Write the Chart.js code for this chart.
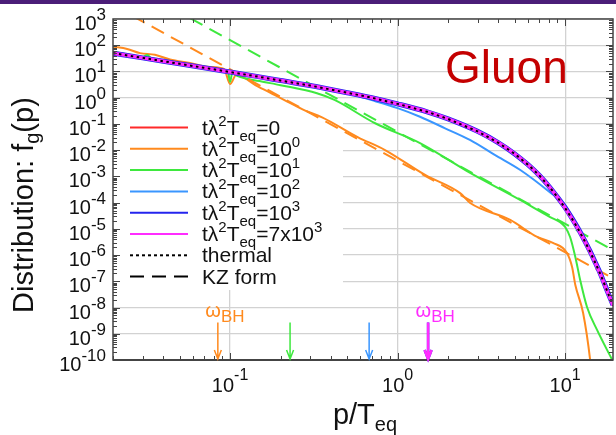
<!DOCTYPE html>
<html><head><meta charset="utf-8">
<script src="https://cdn.jsdelivr.net/npm/chart.js@4.4.1/dist/chart.umd.min.js"></script>
<style>html,body{margin:0;padding:0;background:#fff;}canvas{display:block;}</style>
</head><body>
<canvas id="c" width="616" height="435"></canvas>
<script>
const FONT = '"Liberation Sans", Arial, Helvetica, sans-serif';

// ---- categories / labels ----
const seriesTimes = ['0', '10^0', '10^1', '10^2', '10^3', '7x10^3'];
const seriesColors = ['#ff2a2a', '#ff8a1e', '#3ee83e', '#3a96ff', '#2424ee', '#ff2cff'];
const extraLegend = ['thermal', 'KZ form'];
const xTickExps = [-1, 0, 1];
const yTickExps = [3, 2, 1, 0, -1, -2, -3, -4, -5, -6, -7, -8, -9, -10];
const titleText = 'Gluon';

// ---- thermal (Bose-Einstein-like) ----
const pThermal = [0.02, 0.03, 0.05, 0.07, 0.1, 0.15, 0.2, 0.3, 0.5, 0.7, 1, 1.5, 2, 3, 4, 5, 6, 7, 8, 9, 10, 11, 12, 13, 14, 15, 16, 17, 18, 19.3];
const fThermal = [50, 33, 19.5, 13.8, 9.5, 6.2, 4.5, 2.9, 1.55, 1.0, 0.58, 0.29, 0.155, 0.052, 0.019, 0.0072, 0.0028, 1.1e-3, 4.2e-4, 1.6e-4, 6.2e-5, 2.4e-5, 9.5e-6, 3.7e-6, 1.45e-6, 5.7e-7, 2.3e-7, 9e-8, 3.6e-8, 1.2e-8];
// t=0, t=10^3, t=7x10^3 lie on the thermal curve
const fT0    = [50, 33, 19.5, 13.8, 9.5, 6.2, 4.5, 2.9, 1.55, 1.0, 0.58, 0.29, 0.155, 0.052, 0.019, 0.0072, 0.0028, 1.1e-3, 4.2e-4, 1.6e-4, 6.2e-5, 2.4e-5, 9.5e-6, 3.7e-6, 1.45e-6, 5.7e-7, 2.3e-7, 9e-8, 3.6e-8, 1.2e-8];
const fT1000 = [50, 33, 19.5, 13.8, 9.5, 6.2, 4.5, 2.9, 1.55, 1.0, 0.58, 0.29, 0.155, 0.052, 0.019, 0.0072, 0.0028, 1.1e-3, 4.2e-4, 1.6e-4, 6.4e-5, 2.5e-5, 9.8e-6, 3.8e-6, 1.5e-6, 5.9e-7, 2.4e-7, 9.3e-8, 3.7e-8, 1.25e-8];
const fT7000 = [50, 33, 19.5, 13.8, 9.5, 6.2, 4.5, 2.9, 1.55, 1.0, 0.58, 0.29, 0.155, 0.052, 0.019, 0.0072, 0.0028, 1.1e-3, 4.2e-4, 1.6e-4, 6.2e-5, 2.4e-5, 9.5e-6, 3.7e-6, 1.45e-6, 5.7e-7, 2.3e-7, 9e-8, 3.6e-8, 1.2e-8];

// ---- t = 10^0 (orange) ----
const pT1 = [0.02, 0.0243, 0.029, 0.0356, 0.0438, 0.0577, 0.076, 0.092, 0.1, 0.1086, 0.147, 0.207, 0.281, 0.354, 0.581, 0.841, 1.46, 2.36, 2.71, 4.7, 6.81, 8.45, 10.25, 11.0, 11.5, 12.8, 14.1, 14.6];
const fT1 = [88, 72, 50, 43, 28.6, 21, 14.8, 12.4, 3.3, 7.3, 2.62, 0.87, 0.32, 0.179, 0.031, 0.0101, 1.13e-3, 2.3e-4, 9.7e-5, 2.2e-5, 4.9e-6, 2.9e-6, 1.2e-6, 3.5e-7, 7.2e-8, 6.2e-9, 1e-10, 1e-11];

// ---- t = 10^1 (green) ----
const pT10 = [0.02, 0.025, 0.03, 0.032, 0.034, 0.05, 0.07, 0.097, 0.1, 0.103, 0.111, 0.15, 0.2, 0.33, 0.42, 0.734, 1.36, 2.71, 5.38, 8.13, 9.33, 10, 10.7, 11.5, 12.3, 13.5, 15.5, 19.1];
const fT10 = [56, 43, 35, 42, 31, 19.5, 13.5, 9.6, 4, 8.8, 6.6, 4.3, 3.0, 1.47, 0.82, 0.106, 0.0187, 1.35e-3, 1.26e-4, 2.8e-5, 1.8e-5, 1.17e-5, 4.9e-6, 8.5e-7, 1.1e-7, 1.05e-8, 1.4e-9, 1e-10];

// ---- t = 10^2 (light blue) ----
const pT100 = [0.02, 0.05, 0.1, 0.2, 0.3, 0.37, 0.5, 0.73, 1, 1.36, 1.92, 2.7, 3.8, 5.4, 8.1, 10, 11.9, 14.6, 17.3, 19.3];
const fT100 = [50, 19.5, 9.5, 4.5, 2.9, 2.3, 1.5, 0.75, 0.40, 0.188, 0.068, 0.0245, 0.0066, 1.75e-3, 2.5e-4, 8e-5, 1.1e-5, 1e-6, 8e-8, 1.6e-8];

// ---- KZ power-law forms (dashed) ----
const pKZ = [0.02, 19.3];
const fKZ1 = [3300, 1.3e-7];     // orange
const fKZ10 = [4.4e4, 1.55e-6];  // green

// ---- omega_BH arrows ----
const arrowP = [0.0845, 0.228, 0.676, 1.52, 1.52];
const arrowColors = ['#ff8a1e', '#3ee83e', '#3a96ff', '#2424ee', '#ff2cff'];
const arrowTopF = 2.7e-9;
const omegaP = [0.0845, 1.52];
const omegaColors = ['#ff8a1e', '#ff2cff'];

const pts = (ps, fs) => ps.map((p, i) => ({x: p, y: fs[i]}));

function ds(label, ps, fs, color, width, order, dash) {
  return {label, data: pts(ps, fs), borderColor: color, borderWidth: width, pointRadius: 0,
    fill: false, order, borderDash: dash || [], cubicInterpolationMode: dash && dash.length ? 'default' : 'monotone', tension: 0};
}

const datasets = [
  ds('t=0', pThermal, fT0, seriesColors[0], 2, 10),
  ds('t=1', pT1, fT1, seriesColors[1], 2, 9),
  ds('t=10', pT10, fT10, seriesColors[2], 2, 8),
  ds('KZ1', pKZ, fKZ1, seriesColors[1], 2, 7, [14, 8]),
  ds('KZ10', pKZ, fKZ10, seriesColors[2], 2, 6, [14, 8]),
  ds('t=100', pT100, fT100, seriesColors[3], 2, 5),
  ds('t=1000', pThermal, fT1000, seriesColors[4], 5, 4),
  ds('t=7000', pThermal, fT7000, seriesColors[5], 3.5, 3),
  ds('thermal', pThermal, fThermal, '#000000', 2, 1, [2.5, 3.5]),
];

function drawSup(ctx, parts, x, y) {
  let cx = x;
  for (const p of parts) {
    ctx.font = p.size + 'px ' + FONT;
    ctx.fillText(p.t, cx, y + (p.dy || 0));
    cx += ctx.measureText(p.t).width;
  }
  return cx;
}
function widthOf(ctx, parts) {
  let w = 0;
  for (const p of parts) { ctx.font = p.size + 'px ' + FONT; w += ctx.measureText(p.t).width; }
  return w;
}
function valueParts(v, big, small, supDy) {
  const i = v.indexOf('^');
  if (i < 0) return [{t: v, size: big}];
  return [{t: v.slice(0, i), size: big}, {t: v.slice(i + 1), size: small, dy: supDy}];
}

const deco = {
  id: 'deco',
  beforeDraw(chart) {
    const ctx = chart.ctx;
    ctx.save();
    ctx.fillStyle = '#ffffff'; ctx.fillRect(0, 0, chart.width, chart.height);
    ctx.fillStyle = '#4b1d78'; ctx.fillRect(0, 0, chart.width, 4);
    ctx.restore();
  },
  beforeDatasetsDraw(chart) {
    const {ctx, chartArea: a} = chart;
    ctx.save();
    ctx.fillStyle = '#ffffff';
    ctx.fillRect(a.left + 1, 112, 229, 178); // opaque key area
    ctx.restore();
  },
  afterDraw(chart) {
    const {ctx, chartArea: a} = chart;
    const xs = chart.scales.x, ys = chart.scales.y;
    ctx.save();
    // frame
    ctx.strokeStyle = '#444'; ctx.lineWidth = 1.5;
    ctx.strokeRect(a.left, a.top, a.right - a.left, a.bottom - a.top);
    ctx.lineWidth = 2;
    ctx.beginPath(); ctx.moveTo(a.left, a.bottom); ctx.lineTo(a.right, a.bottom); ctx.stroke();
    // inner ticks
    ctx.lineWidth = 1; ctx.strokeStyle = '#444';
    ctx.beginPath();
    for (let d = -2; d <= 1; d++) for (let m = 1; m <= 9; m++) {
      const v = m * Math.pow(10, d);
      if (v < xs.min || v > xs.max) continue;
      const px = Math.round(xs.getPixelForValue(v)) + 0.5, L = m === 1 ? 7 : 4;
      ctx.moveTo(px, a.bottom); ctx.lineTo(px, a.bottom - L);
      ctx.moveTo(px, a.top); ctx.lineTo(px, a.top + L);
    }
    for (let d = -10; d <= 2; d++) for (let m = 1; m <= 9; m++) {
      const v = m * Math.pow(10, d);
      const py = Math.round(ys.getPixelForValue(v)) + 0.5, L = m === 1 ? 7 : 4;
      ctx.moveTo(a.left, py); ctx.lineTo(a.left + L, py);
      ctx.moveTo(a.right, py); ctx.lineTo(a.right - L, py);
    }
    ctx.stroke();

    ctx.fillStyle = '#111';
    ctx.textBaseline = 'alphabetic'; ctx.textAlign = 'left';
    // y tick labels
    for (const e of yTickExps) {
      const py = ys.getPixelForValue(Math.pow(10, e));
      const parts = [{t: '10', size: 20, dy: 11}, {t: String(e), size: 17, dy: 1}];
      const w = widthOf(ctx, parts);
      drawSup(ctx, parts, 106 - w, py);
    }
    // x tick labels
    for (const e of xTickExps) {
      const px = xs.getPixelForValue(Math.pow(10, e));
      const parts = [{t: '10', size: 20, dy: 0}, {t: String(e), size: 16, dy: -12}];
      const w = widthOf(ctx, parts);
      drawSup(ctx, parts, px - w / 2, 392);
    }
    // axis titles
    ctx.fillStyle = '#111';
    const xt = [{t: 'p/T', size: 29}, {t: 'eq', size: 20, dy: 7}];
    drawSup(ctx, xt, 365 - widthOf(ctx, xt) / 2, 424);
    ctx.save();
    ctx.translate(33, 313); ctx.rotate(-Math.PI / 2);
    drawSup(ctx, [{t: 'Distribution: f', size: 29}, {t: 'g', size: 20, dy: 6}, {t: '(p)', size: 29}], 0, 0);
    ctx.restore();

    // title
    ctx.fillStyle = '#c40000';
    ctx.font = '46px ' + FONT;
    ctx.fillText(titleText, 445, 83);

    // legend
    const rowY = i => 127.5 + i * 21.3;
    for (let i = 0; i < seriesTimes.length; i++) {
      const y = rowY(i);
      ctx.strokeStyle = seriesColors[i]; ctx.lineWidth = 2; ctx.setLineDash([]);
      ctx.beginPath(); ctx.moveTo(130, y); ctx.lineTo(188, y); ctx.stroke();
      ctx.fillStyle = '#111';
      const parts = [{t: 'tλ', size: 21}, {t: '2', size: 15, dy: -9}, {t: 'T', size: 21}, {t: 'eq', size: 15, dy: 6}, {t: '=', size: 21}]
        .concat(valueParts(seriesTimes[i], 21, 15, -9));
      drawSup(ctx, parts, 202, y + 7);
    }
    const dashes = [[3, 3], [14, 8]];
    for (let j = 0; j < extraLegend.length; j++) {
      const y = rowY(seriesTimes.length + j);
      ctx.strokeStyle = '#000'; ctx.lineWidth = 2; ctx.setLineDash(dashes[j]);
      ctx.beginPath(); ctx.moveTo(130, y); ctx.lineTo(188, y); ctx.stroke();
      ctx.setLineDash([]);
      ctx.fillStyle = '#111'; ctx.font = '21px ' + FONT;
      ctx.fillText(extraLegend[j], 202, y + 7);
    }

    // arrows
    const yTop = ys.getPixelForValue(arrowTopF), yBot = a.bottom - 1;
    for (let i = 0; i < arrowP.length; i++) {
      const px = xs.getPixelForValue(arrowP[i]);
      ctx.strokeStyle = arrowColors[i];
      ctx.lineWidth = i >= 3 ? 2.5 : 1.5;
      ctx.beginPath();
      ctx.moveTo(px, yTop); ctx.lineTo(px, yBot);
      ctx.moveTo(px - 3.5, yBot - 9); ctx.lineTo(px, yBot); ctx.lineTo(px + 3.5, yBot - 9);
      ctx.stroke();
    }
    for (let i = 0; i < omegaP.length; i++) {
      const px = xs.getPixelForValue(omegaP[i]);
      ctx.fillStyle = omegaColors[i];
      drawSup(ctx, [{t: 'ω', size: 20}, {t: 'BH', size: 17, dy: 5}], px - 12.5, 317);
    }
    ctx.restore();
  }
};

new Chart(document.getElementById('c'), {
  type: 'line',
  data: {datasets},
  options: {
    responsive: false, animation: false, devicePixelRatio: 1, events: [],
    layout: {padding: {left: 113, right: 3, top: 19, bottom: 75}},
    plugins: {legend: {display: false}, tooltip: {enabled: false}, title: {display: false}},
    scales: {
      x: {
        type: 'logarithmic', min: 0.02, max: 19.3,
        afterBuildTicks: s => { s.ticks = xTickExps.map(e => ({value: Math.pow(10, e)})); },
        ticks: {display: false},
        grid: {color: '#d2d2d2', lineWidth: 1.3, drawTicks: false},
        border: {display: false}
      },
      y: {
        type: 'logarithmic', min: 1e-10, max: 1e3,
        afterBuildTicks: s => { s.ticks = yTickExps.map(e => ({value: Math.pow(10, e)})); },
        ticks: {display: false},
        grid: {color: '#d2d2d2', lineWidth: 1.3, drawTicks: false},
        border: {display: false}
      }
    }
  },
  plugins: [deco]
});
</script>
</body></html>
